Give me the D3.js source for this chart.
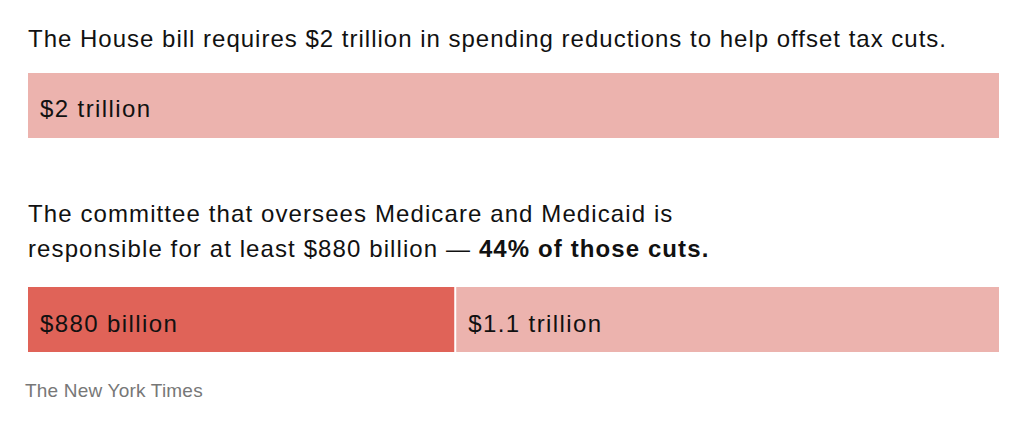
<!DOCTYPE html>
<html><head><meta charset="utf-8">
<script src="https://cdn.jsdelivr.net/npm/d3@7"></script>
<style>body{margin:0;background:#fff}svg{display:block}</style>
</head><body>
<script>
const totalLabel = ["$2 trillion"];
const totalValue = [2000];
const splitLabels = ["$880 billion", "$1.1 trillion"];
const splitValues = [880, 1120];
const splitColors = ["#e06358", "#ecb3ae"];
const title1 = "The House bill requires $2 trillion in spending reductions to help offset tax cuts.";
const title2a = "The committee that oversees Medicare and Medicaid is";
const title2b = "responsible for at least $880 billion — ";
const title2bBold = "44% of those cuts.";
const source = "The New York Times";

const W = 1024, H = 424;
const font = "'Liberation Sans', Arial, sans-serif";
const fs = 24, ls = 1;
const svg = d3.select("body").append("svg").attr("width", W).attr("height", H);
const x = d3.scaleLinear().domain([0, d3.sum(totalValue)]).range([28, 999]);

function txt(sel, spacing) {
  return sel.attr("font-family", font).attr("font-size", fs).attr("letter-spacing", spacing == null ? ls : spacing).attr("fill", "#111");
}

txt(svg.append("text").attr("x", 28).attr("y", 47)).text(title1);

svg.selectAll("rect.total").data(totalValue).enter().append("rect")
  .attr("x", x(0)).attr("y", 73).attr("width", d => x(d) - x(0)).attr("height", 65)
  .attr("fill", "#ecb3ae");
txt(svg.selectAll("text.total").data(totalLabel).enter().append("text")
  .attr("x", x(0) + 12).attr("y", 117), 1.4).text(d => d);

const t2 = txt(svg.append("text"), 1.1);
t2.append("tspan").attr("x", 28).attr("y", 222).text(title2a);
t2.append("tspan").attr("x", 28).attr("y", 257).text(title2b);
t2.append("tspan").attr("font-weight", "bold").attr("letter-spacing", 1.1).text(title2bBold);

let acc = 0;
const segs = splitValues.map((v, i) => { const s = {v, start: acc, label: splitLabels[i], color: splitColors[i]}; acc += v; return s; });
svg.selectAll("rect.seg").data(segs).enter().append("rect")
  .attr("x", d => x(d.start) + (d.start > 0 ? 1 : 0))
  .attr("y", 287).attr("height", 65)
  .attr("width", d => x(d.start + d.v) - x(d.start) - 1)
  .attr("fill", d => d.color);
txt(svg.selectAll("text.seg").data(segs).enter().append("text")
  .attr("x", d => x(d.start) + 12 + (d.start > 0 ? 1 : 0)).attr("y", 332), 1.4).text(d => d.label);

svg.append("text").attr("x", 25).attr("y", 397).attr("font-family", font).attr("font-size", 19)
  .attr("letter-spacing", 0.2).attr("fill", "#777").text(source);
</script>
</body></html>
